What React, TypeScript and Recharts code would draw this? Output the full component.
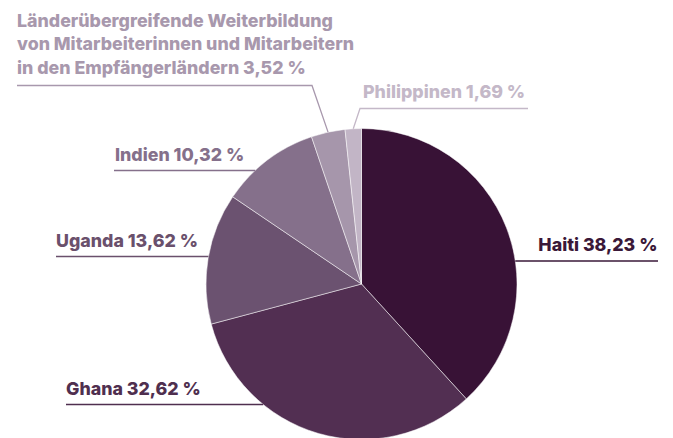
import { PieChart, Pie, Cell } from 'recharts';

const categories = [
  'Haiti',
  'Ghana',
  'Uganda',
  'Indien',
  'Länderübergreifende Weiterbildung von Mitarbeiterinnen und Mitarbeitern in den Empfängerländern',
  'Philippinen',
];
const shares = [38.23, 32.62, 13.62, 10.32, 3.52, 1.69];
const colors = ['#381236', '#522f52', '#6b5270', '#85708b', '#a696ab', '#c2b5c6'];
const textColors = ['#3a1838', '#4f2f4f', '#6a506c', '#85708b', '#a898ad', '#c4b8c8'];

// label text lines (the long one is wrapped by hand like the original)
const labelLines = [
  ['Haiti'],
  ['Ghana'],
  ['Uganda'],
  ['Indien'],
  ['Länderübergreifende Weiterbildung', 'von Mitarbeiterinnen und Mitarbeitern', 'in den Empfängerländern'],
  ['Philippinen'],
];

// where each label sits: side of the pie, text x, line y, line far end, optional elbow
type Layout = { side: 'left' | 'right'; x: number; lineY: number; far: number; elbow?: number; baseline: number };
const layouts: Layout[] = [
  { side: 'right', x: 657.5, lineY: 261, far: 658, baseline: 251 },
  { side: 'left', x: 66, lineY: 404.5, far: 66, baseline: 395 },
  { side: 'left', x: 56, lineY: 256.5, far: 56, baseline: 247 },
  { side: 'left', x: 115, lineY: 170.5, far: 114, baseline: 161 },
  { side: 'left', x: 17, lineY: 85.5, far: 17, elbow: 312, baseline: 26.5 },
  { side: 'right', x: 363, lineY: 108.5, far: 528, elbow: 360, baseline: 98 },
];

const data = categories.map((name, i) => ({ name, value: shares[i] }));

const FONT = 'Inter, "Open Sans", sans-serif';
const RAD = Math.PI / 180;

const fmt = (v: number) => `${v.toFixed(2).replace('.', ',')} %`;

function renderLabel(props: any) {
  const { cx, cy, midAngle, outerRadius, index, value } = props;
  const l = layouts[index];
  const lines = labelLines[index];
  const color = textColors[index];
  let points: string;
  if (l.elbow !== undefined) {
    const sx = cx + outerRadius * Math.cos(-midAngle * RAD);
    const sy = cy + outerRadius * Math.sin(-midAngle * RAD);
    points = `${sx},${sy} ${l.elbow},${l.lineY} ${l.far},${l.lineY}`;
  } else {
    const dy = l.lineY - cy;
    const dx = Math.sqrt(Math.max(outerRadius * outerRadius - dy * dy, 0));
    const ex = l.side === 'right' ? cx + dx : cx - dx;
    points = `${ex},${l.lineY} ${l.far},${l.lineY}`;
  }
  return (
    <g key={`lbl-${index}`}>
      <polyline points={points} fill="none" stroke={color} strokeWidth={1.3} />
      <text
        x={l.x}
        y={l.baseline}
        fill={color}
        fontFamily={FONT}
        fontWeight={800}
        fontSize={17.8}
        textAnchor={l.side === 'right' && l.elbow === undefined ? 'end' : 'start'}
      >
        {lines.map((t, j) => (
          <tspan key={j} x={l.x} dy={j === 0 ? 0 : 23.5}>
            {j === lines.length - 1 ? `${t} ${fmt(value)}` : t}
          </tspan>
        ))}
      </text>
    </g>
  );
}

export default function App() {
  return (
    <div style={{ position: 'absolute', left: 0, top: 0, width: 673, height: 438, background: '#fff' }}>
      <PieChart width={673} height={438} margin={{ top: 0, right: 0, bottom: 0, left: 0 }}>
        <Pie
          data={data}
          dataKey="value"
          nameKey="name"
          cx={361.5}
          cy={284}
          outerRadius={155.5}
          startAngle={90}
          endAngle={-270}
          stroke="#ffffff"
          strokeWidth={0.5}
          label={renderLabel}
          labelLine={false}
          isAnimationActive={false}
        >
          {data.map((d, i) => (
            <Cell key={d.name} fill={colors[i]} />
          ))}
        </Pie>
      </PieChart>
    </div>
  );
}
